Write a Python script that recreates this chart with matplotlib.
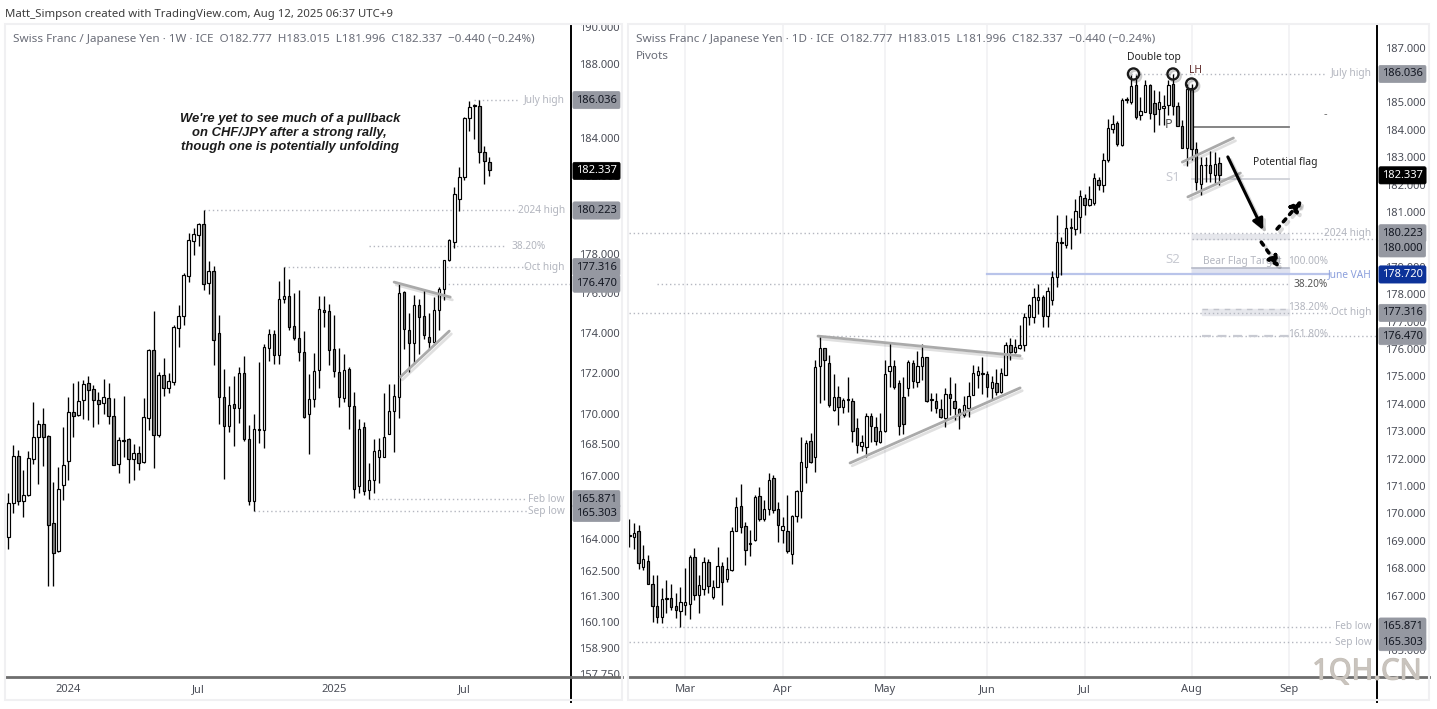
import matplotlib
matplotlib.use("Agg")
import matplotlib.pyplot as plt
import matplotlib.patheffects as pe
from matplotlib.patches import Rectangle

plt.rcParams['font.family'] = ['Noto Sans', 'DejaVu Sans']

# Weekly CHF/JPY
w_open = [164.05,165.7,167.95,165.8,166.05,167.8,168.85,169.5,168.9,164.75,163.4,166.55,167.7,170.1,169.95,170.65,171.5,171.2,170.65,170.5,
          170.75,169.9,167.55,168.7,168.75,167.8,168.1,167.65,169.8,173.15,168.95,171.9,171.25,171.55,174.25,174.85,176.85,178.65,178.95,179.5,
          176.5,177.1,174.0,170.8,169.4,170.45,170.25,172.0,168.75,165.8,169.2,169.2,173.25,173.95,172.9,175.7,175.85,174.35,173.75,173.05,
          170.0,170.7,172.15,175.15,175.1,173.2,172.05,170.75,172.2,170.35,166.5,169.35,166.3,166.8,167.9,167.9,169.0,170.15,170.8,176.05,
          174.15,173.5,175.4,174.85,173.8,173.55,175.15,176.2,177.65,178.6,180.8,181.95,185.1,185.7,185.7,183.3,182.777]
w_high = [166.15,168.45,168.25,167.25,168.2,170.55,169.7,170.25,168.95,166.7,167.4,169.35,170.8,171.5,171.6,171.65,171.85,171.4,171.05,171.7,
          171.5,170.75,168.85,170.85,168.8,168.5,168.4,170.75,173.2,175.1,172.05,172.75,172.0,174.4,175.4,177.0,179.07,179.3,179.55,180.223,
          177.6,177.35,174.9,172.2,171.35,171.85,172.3,172.85,169.45,170.0,172.55,173.45,174.2,174.15,176.6,177.316,176.7,176.0,176.15,174.1,
          171.95,173.0,175.85,175.85,175.45,174.9,173.25,172.95,172.3,171.05,169.75,169.6,167.6,168.75,168.8,171.0,171.45,171.45,176.47,176.1,
          175.0,175.9,175.7,176.2,175.0,175.8,176.3,177.7,178.75,181.45,182.5,185.15,186.0,185.85,186.036,183.6,183.015]
w_low = [163.5,165.2,165.6,165.0,166.0,167.55,166.6,167.45,161.8,161.8,163.35,165.85,166.8,168.85,169.9,169.75,169.7,169.35,169.5,170.0,
         169.5,167.5,167.1,167.9,166.65,166.8,167.25,167.6,169.2,167.35,168.85,170.85,171.0,171.4,173.3,174.4,176.55,177.95,178.4,176.15,
         175.95,172.4,169.5,166.85,169.1,168.4,169.55,168.65,165.6,165.303,168.55,168.35,172.6,172.45,172.45,175.5,174.15,173.65,172.6,169.8,
         168.05,170.3,171.25,174.3,172.4,171.8,170.3,170.55,169.25,165.9,166.15,166.05,165.871,166.15,166.65,167.9,169.0,168.15,169.8,173.2,
         172.05,172.45,172.95,173.7,173.15,173.5,174.15,175.65,177.6,178.3,180.2,181.8,184.4,183.95,182.7,181.6,181.996]
w_close = [165.7,167.95,165.8,166.05,167.85,168.85,169.5,168.85,164.65,163.3,166.35,167.5,170.1,169.9,170.6,171.45,171.15,170.65,170.45,170.8,
           169.9,167.5,168.7,168.65,167.8,168.1,167.6,169.85,173.15,168.95,171.9,171.25,171.6,174.3,174.85,176.9,178.7,179.0,179.5,176.45,
           177.1,173.65,170.8,169.4,170.4,170.25,172.0,168.75,165.8,169.25,169.25,173.3,173.95,172.9,175.7,175.85,174.3,173.75,173.05,169.85,
           170.7,172.1,175.2,175.05,173.15,172.1,170.8,172.15,170.35,166.35,169.25,166.25,166.8,168.2,168.25,168.85,170.15,170.85,176.0,174.2,
           173.5,175.4,174.8,173.9,173.55,175.15,176.2,177.65,178.7,181.1,181.95,185.1,185.65,185.75,183.3,182.8,182.337]

# Daily CHF/JPY
d_open = [169.18,169.15,169.34,168.06,168.28,167.41,166.63,166.23,166.87,166.93,166.63,166.45,166.66,166.7,168.4,167.02,167.23,168.24,166.96,167.33,
          168.09,167.6,167.94,169.37,170.27,169.54,168.87,169.03,170.64,169.79,170.15,171.3,170.15,169.4,169.34,168.52,169.91,170.82,171.71,172.64,
          172.07,175.38,176.03,175.5,173.78,174.24,173.87,174.14,174.1,173.13,172.46,172.44,173.57,173.17,172.62,173.0,175.2,175.39,174.75,174.26,
          174.57,175.48,174.81,175.38,175.72,174.13,174.1,173.8,173.47,174.36,174.12,173.82,173.59,173.84,174.32,175.05,175.09,175.09,174.57,174.75,
          174.44,175.05,176.15,175.9,176.03,176.15,177.16,177.18,177.79,177.89,177.21,177.79,178.64,179.86,179.8,180.42,180.37,180.83,181.5,181.26,
          181.34,182.15,181.99,182.9,184.02,184.24,183.45,185.1,185.0,185.64,184.54,184.66,185.64,184.99,184.75,184.79,184.91,185.66,184.87,184.15,
          183.33,185.52,183.29,182.02,182.7,182.71,182.35,182.777]
d_high = [169.79,169.66,169.58,168.85,168.48,167.75,167.75,167.27,167.57,167.42,167.08,167.33,168.02,168.48,168.73,167.75,168.4,168.33,167.57,168.79,
          168.24,168.42,169.49,170.59,171.06,169.7,169.4,170.67,170.95,170.49,171.46,171.4,170.43,169.88,170.67,169.94,170.86,172.8,172.68,172.95,
          175.6,176.47,176.05,175.78,175.09,174.65,174.2,174.99,174.2,173.47,172.86,173.65,173.68,173.53,173.68,175.6,176.21,175.6,174.87,174.97,
          175.6,175.6,175.94,176.18,175.72,174.38,174.41,174.17,174.57,174.97,174.75,173.84,174.29,174.81,175.42,175.39,175.72,175.21,175.02,175.26,
          175.3,176.27,176.39,176.35,176.88,177.3,177.65,178.22,178.38,177.97,178.28,178.83,180.89,180.1,180.89,180.77,181.46,181.81,181.66,181.93,
          182.44,182.29,183.14,184.38,184.54,184.32,185.15,185.19,186.0,186.0,185.18,185.8,185.67,185.45,185.43,185.27,185.8,186.036,185.03,184.36,
          185.67,185.67,183.57,183.02,183.02,183.24,183.2,183.015]
d_low = [168.79,168.69,167.96,167.94,167.41,166.05,166.01,166.01,166.38,166.48,166.17,165.871,166.29,166.14,166.84,166.36,167.02,167.08,166.87,167.3,
         166.65,167.51,167.91,169.34,169.3,168.12,168.45,169.0,169.74,169.74,169.94,170.0,168.97,168.93,168.57,168.14,169.7,169.82,171.12,171.83,
         171.5,174.04,174.14,173.87,173.75,173.23,173.68,173.71,172.62,172.22,172.29,172.07,172.62,172.5,172.58,172.98,174.6,174.53,172.86,172.9,
         174.29,174.57,174.6,174.87,174.08,173.74,173.65,173.47,173.17,173.59,173.41,173.08,173.53,173.53,174.32,174.57,174.36,174.24,174.14,174.32,
         174.38,175.05,175.6,175.85,175.99,175.94,176.88,176.94,177.28,176.82,176.79,177.61,178.28,178.7,179.68,179.64,180.16,180.22,180.89,181.22,
         181.26,181.81,181.72,182.84,183.87,183.41,183.39,184.97,184.95,184.38,184.36,184.66,184.38,183.93,184.18,184.18,184.54,184.54,184.14,183.33,
         182.68,182.9,181.81,181.62,182.11,182.11,182.05,181.996]
d_close = [169.23,169.27,168.18,168.33,167.42,166.62,166.23,166.87,166.9,166.57,166.48,166.78,166.78,168.42,167.02,167.37,168.22,167.35,167.33,168.09,
           167.49,167.96,169.37,170.25,169.52,168.66,168.91,170.61,169.79,170.15,171.22,170.13,169.58,169.54,168.61,169.91,170.82,171.87,172.56,171.89,
           175.36,176.05,175.6,173.96,174.23,173.9,174.14,174.17,173.02,172.5,172.62,173.57,173.19,172.66,173.02,175.09,175.39,174.6,173.19,173.25,
           175.54,174.83,175.39,175.72,174.1,174.17,173.84,173.51,174.36,174.2,173.84,173.59,173.96,174.29,175.14,175.2,175.14,174.6,174.81,174.42,
           175.14,176.15,175.9,176.09,176.15,177.16,177.61,177.89,177.89,177.21,178.13,178.64,179.92,179.9,180.43,180.47,181.05,181.6,181.26,181.46,
           182.23,181.99,182.88,184.06,184.21,183.47,185.07,185.13,185.6,184.48,184.7,185.64,184.6,184.58,185.03,184.87,185.64,184.87,184.14,183.35,
           185.48,183.29,182.11,182.71,182.73,182.41,182.75,182.337]

# Axis ticks
w_ticks = [190, 188, 184, 182, 178, 176, 174, 172, 170, 168.5, 167, 164, 162.5, 161.3, 160.1, 158.9, 157.75]
d_ticks = [187, 185, 184, 183, 182, 181, 179, 178, 177, 176, 175, 174, 173, 172, 171, 170, 169, 168, 167, 166, 165]
w_date_pos = [12, 38, 65, 91]
w_date_lab = ['2024', 'Jul', '2025', 'Jul']
d_date_pos = [12, 33, 55, 77, 98, 121, 142]
d_date_lab = ['Mar', 'Apr', 'May', 'Jun', 'Jul', 'Aug', 'Sep']

TEXT = '#4a4d57'
FAINT = '#b2b5be'
TAG = '#9598a1'

W, H = 1437, 709
fig = plt.figure(figsize=(W / 100, H / 100), dpi=100, facecolor='white')


def pane(x0, x1, y0, y1):
    return fig.add_axes([x0 / W, 1 - y1 / H, (x1 - x0) / W, (y1 - y0) / H])


def candles(ax, o, h, l, c, wid):
    xs = range(len(o))
    ax.vlines(xs, l, h, color='black', lw=0.95, zorder=3)
    for x, a, b in zip(xs, o, c):
        fill = 'white' if b >= a else '#7d7d7d'
        ax.bar(x, abs(b - a), bottom=min(a, b), width=wid, color=fill, edgecolor='black', lw=0.85, zorder=4)


def tag(ax, price, label, bg=TAG, fg='#131722', dy=0):
    ax.annotate(label, xy=(1, price), xycoords=ax.get_yaxis_transform(), xytext=(5, dy),
                textcoords='offset pixels', ha='left', va='center', fontsize=8, color=fg,
                annotation_clip=False, zorder=12,
                bbox=dict(boxstyle='round,pad=0.28,rounding_size=0.15', fc=bg, ec=bg, lw=0.5))


def level(ax, x0, x1, price, color='#b4b7c0'):
    ax.plot([x0, x1], [price, price], color=color, lw=1.0, ls=(0, (1, 2)), zorder=2)


def note(ax, x, price, s, color=FAINT, size=7.3, ha='left', **kw):
    ax.text(x, price, s, color=color, fontsize=size, ha=ha, va='center', zorder=6, **kw)


def trend(ax, xs, ys):
    ax.plot(xs, ys, color='#aaaaaa', lw=2.0, zorder=5, solid_capstyle='round',
            path_effects=[pe.SimpleLineShadow(offset=(1.5, -2), alpha=0.12, shadow_color='black'), pe.Normal()])


def arrow(ax, p0, p1, ls='-', lw=2.2):
    ax.annotate('', xy=p1, xytext=p0, zorder=8,
                arrowprops=dict(arrowstyle='-|>,head_width=0.32,head_length=0.65', color='black',
                                lw=lw, ls=ls, shrinkA=0, shrinkB=0,
                                path_effects=[pe.SimpleLineShadow(offset=(2, -2), alpha=0.15, shadow_color='black'), pe.Normal()]))


def finish(ax, ticks, pos, lab, over):
    ax.set_yticks(ticks)
    ax.set_yticklabels([f'{t:.3f}' for t in ticks])
    ax.minorticks_off()
    ax.yaxis.tick_right()
    ax.tick_params(axis='y', length=0, pad=6, labelsize=8, labelcolor=TEXT)
    ax.set_xticks(pos)
    ax.set_xticklabels(lab)
    ax.tick_params(axis='x', length=0, pad=5, labelsize=8, labelcolor=TEXT)
    for s in ['top', 'left']:
        ax.spines[s].set_visible(False)
    ax.spines['right'].set_color('black')
    ax.spines['right'].set_linewidth(1.4)
    ax.spines['bottom'].set_color('#6e6e6e')
    ax.spines['bottom'].set_linewidth(2)
    # price scale line runs past the time axis, time axis runs past the price scale
    ax.plot([1, 1], [0, -0.038], transform=ax.transAxes, color='black', lw=1.4, clip_on=False, zorder=9)
    ax.plot([1, over], [0, 0], transform=ax.transAxes, color='#6e6e6e', lw=2, clip_on=False, zorder=9)


# outer frames
for x0, x1 in [(5, 622), (628, 1429)]:
    fig.add_artist(Rectangle((x0 / W, 1 - 700 / H), (x1 - x0) / W, 676 / H, transform=fig.transFigure,
                             fc='none', ec='#f0f0f2', lw=1.5))

fig.text(5 / W, 1 - 14 / H, 'Matt_Simpson created with TradingView.com, Aug 12, 2025 06:37 UTC+9',
         fontsize=8.2, color='#3c3c3c', va='center')

# ---- weekly pane
ax1 = pane(5, 571, 24, 677)
ax1.set_yscale('log')
ax1.set_xlim(-0.66, 112.3)
ax1.set_ylim(157.6, 190.15)
candles(ax1, w_open, w_high, w_low, w_close, 0.5)
finish(ax1, w_ticks, w_date_pos, w_date_lab, 1.09)

ax1.text(0.014, 0.976, 'Swiss Franc / Japanese Yen \u00b7 1W \u00b7 ICE  O182.777  H183.015  L181.996  C182.337  \u22120.440 (\u22120.24%)',
         transform=ax1.transAxes, fontsize=8.4, color='#6a6d78', va='center', zorder=1)
ax1.text(0.503, 0.833, "We're yet to see much of a pullback\non CHF/JPY after a strong rally,\nthough one is potentially unfolding",
         transform=ax1.transAxes, family='Liberation Sans', fontsize=9.4, fontweight='bold', fontstyle='italic',
         color='#1c1c1c', ha='center', va='center', linespacing=1.2, zorder=6)

level(ax1, 93, 102, 186.036)
level(ax1, 39, 101.6, 180.223)
level(ax1, 72, 99.2, 178.39)
level(ax1, 55, 103.5, 177.316)
level(ax1, 87, 112.3, 176.47)
level(ax1, 72, 103.5, 165.871)
level(ax1, 49, 103.5, 165.303)
note(ax1, 111.1, 186.036, 'July high', ha='right')
note(ax1, 111.1, 180.223, '2024 high', ha='right')
note(ax1, 100.5, 178.39, '38.20%')
note(ax1, 111.1, 177.316, 'Oct high', ha='right')
note(ax1, 111.1, 165.871, 'Feb low', ha='right')
note(ax1, 111.1, 165.303, 'Sep low', ha='right')
trend(ax1, [77, 88.2], [176.55, 175.79])
trend(ax1, [78.2, 88], [171.79, 174.08])

tag(ax1, 186.036, '186.036')
tag(ax1, 180.223, '180.223')
tag(ax1, 177.316, '177.316')
tag(ax1, 176.47, '176.470')
tag(ax1, 165.871, '165.871')
tag(ax1, 165.303, '165.303', dy=-2)
tag(ax1, 182.337, '182.337', bg='#000000', fg='white', dy=-1)

# ---- daily pane
ax2 = pane(628, 1377, 24, 677)
ax2.set_xlim(-0.28, 160.9)
ax2.set_ylim(164.03, 187.86)
for p in d_date_pos:
    ax2.axvline(p, color='#f0f0f3', lw=1.1, zorder=0)
candles(ax2, d_open, d_high, d_low, d_close, 0.52)
finish(ax2, d_ticks, d_date_pos, d_date_lab, 1.069)

ax2.text(0.0107, 0.976, 'Swiss Franc / Japanese Yen \u00b7 1D \u00b7 ICE  O182.777  H183.015  L181.996  C182.337  \u22120.440 (\u22120.24%)',
         transform=ax2.transAxes, fontsize=8.4, color='#6a6d78', va='center', zorder=1)
ax2.text(0.0107, 0.95, 'Pivots', transform=ax2.transAxes, fontsize=8.4, color='#6a6d78', va='center')

level(ax2, 108, 150, 186.036)
level(ax2, 0, 150.5, 180.223)
level(ax2, 121, 160.9, 180.0)
level(ax2, 6, 142, 178.36)
level(ax2, 0, 151.5, 177.316)
level(ax2, 41, 160.9, 176.47)
level(ax2, 7, 151.5, 165.871)
level(ax2, 0, 151.5, 165.303)

ax2.plot([77, 150.5], [178.72, 178.72], color='#b9c4ea', lw=1.6, zorder=2)
ax2.plot([121, 142], [184.1, 184.1], color='#7b7b7b', lw=1.3, zorder=2)
ax2.plot([121, 142], [182.22, 182.22], color='#cfd1d8', lw=1.3, zorder=2)
ax2.fill_between([121, 142], 180.0, 180.2, color='#e6e7ec', zorder=1)
ax2.fill_between([121, 142], 178.72, 178.95, color='#dfe2f0', zorder=1)
ax2.plot([121, 142], [178.95, 178.95], color='#b6bac8', lw=1.2, zorder=2)
ax2.fill_between([123.2, 142], 177.25, 177.45, color='#e6e7ec', zorder=1)
ax2.plot([123.2, 142], [177.45, 177.45], color='#c2c4cc', lw=1.0, ls=(0, (4, 4)), zorder=2)
ax2.plot([123.2, 142], [176.47, 176.47], color='#c8cad2', lw=1.6, ls=(0, (4, 3)), zorder=2)

note(ax2, 159.7, 186.036, 'July high', ha='right')
note(ax2, 159.7, 180.223, '2024 high', ha='right')
note(ax2, 159.7, 178.72, 'June VAH', color='#8b9fdc', ha='right')
note(ax2, 159.7, 177.316, 'Oct high', ha='right')
note(ax2, 159.7, 165.871, 'Feb low', ha='right')
note(ax2, 159.7, 165.303, 'Sep low', ha='right')
note(ax2, 143, 178.36, '38.20%', color='#555555')
note(ax2, 123.5, 179.18, 'Bear Flag Target', color='#b4b7c0')
note(ax2, 141.8, 179.18, '100.00%')
note(ax2, 141.8, 177.5, '138.20%')
note(ax2, 141.8, 176.52, '161.80%')
note(ax2, 118.6, 182.25, 'S1', size=9.5, color='#c8cad2', ha='right')
note(ax2, 118.6, 179.25, 'S2', size=9.5, color='#c8cad2', ha='right')
note(ax2, 116.8, 184.2, 'P', size=9, color='#555555', ha='right')
note(ax2, 149.5, 184.55, '-', color='#666666', size=8)
note(ax2, 134.3, 182.79, 'Potential flag', color='#222222', size=7.4)
note(ax2, 112.8, 186.65, 'Double top', color='#222222', size=7.4, ha='center')
note(ax2, 120.5, 186.18, 'LH', color='#5e2a2a', ha='left')

trend(ax2, [40.6, 84.1], [176.47, 175.75])
trend(ax2, [47.5, 84.1], [171.84, 174.58])
trend(ax2, [119, 130], [182.82, 183.7])
trend(ax2, [120.2, 131.5], [181.55, 182.42])

arrow(ax2, (128.8, 183.01), (136.4, 180.34))
arrow(ax2, (139.4, 180.38), (144.8, 181.44), ls=':', lw=2.6)
arrow(ax2, (136, 179.9), (139.9, 178.96), ls=':', lw=2.6)

# swing high rings, same data as the candles
ring_x = [108.5, 117, 121]
ring_y = [186.036, 186.036, 185.67]
ax2.plot(ring_x, ring_y, ls='none', marker='o', ms=8, mfc='none', mec='#1a1a1a', mew=1.7, zorder=8,
         path_effects=[pe.SimpleLineShadow(offset=(1.5, -1.5), alpha=0.2, shadow_color='black'), pe.Normal()])

tag(ax2, 186.036, '186.036')
tag(ax2, 180.223, '180.223')
tag(ax2, 180.0, '180.000', dy=-9)
tag(ax2, 177.316, '177.316')
tag(ax2, 176.47, '176.470')
tag(ax2, 165.871, '165.871')
tag(ax2, 165.303, '165.303')
tag(ax2, 178.72, '178.720', bg='#0c3299', fg='white')
tag(ax2, 182.337, '182.337', bg='#000000', fg='white')

# site watermark
fig.text(1367 / W, 1 - 672 / H, '1QH.CN', fontsize=21, color='#c9c4be', ha='center', va='center', zorder=20,
         path_effects=[pe.withStroke(linewidth=0.8, foreground='#c4bdb5')])

fig.savefig('out.png', dpi=100)
